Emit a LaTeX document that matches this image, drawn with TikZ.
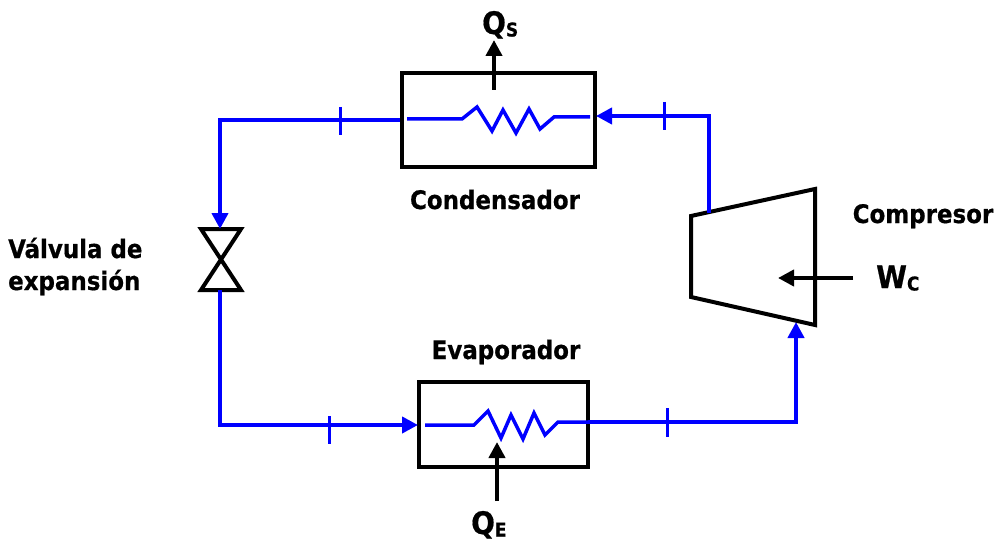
\documentclass[tikz,border=0pt]{standalone}
\usepackage{fontspec}
\setmainfont[BoldFeatures={FakeBold=0.6}]{DejaVu Sans Condensed}
\usetikzlibrary{arrows.meta}
\tikzset{
  unit/.style={draw=black,line width=4pt,miter limit=10},
  flow/.style={draw=blue,line width=4pt},
  coil/.style={draw=blue,line width=3.5pt,line join=miter},
  tick/.style={draw=blue,line width=3pt},
  flowarrow/.style={flow,-{Triangle[length=16pt,width=16pt]}},
  heat/.style={draw=black,line width=4pt,-{Triangle[length=16pt,width=16pt]}},
  label/.style={font=\bfseries\fontsize{25.5}{27}\selectfont,inner sep=0pt,text=black},
  sym/.style={font=\bfseries\fontsize{31}{33}\selectfont,inner sep=0pt,text=black},
}
\newcommand{\subs}[1]{{\fontsize{19}{21}\selectfont\raisebox{-2.5pt}{#1}}}
\begin{document}
\begin{tikzpicture}[x=1pt,y=-1pt]
\useasboundingbox (0,0) rectangle (998,540);
% units
\node[unit,draw,minimum width=193pt,minimum height=94pt,inner sep=0pt] (cond) at (498.5,120.5) {};
\node[unit,draw,minimum width=169pt,minimum height=85pt,inner sep=0pt] (evap) at (503.5,424.5) {};
\draw[unit,line join=miter] (691,216) coordinate (c1) -- (815,189) coordinate (c2) -- (815,325) coordinate (c3) -- (691,297) coordinate (c4) -- cycle;
\draw[unit,line join=miter] (201,229) coordinate (v1) -- (241,229) coordinate (v2) -- (201,290) coordinate (v3) -- (241,290) coordinate (v4) -- cycle;
% named points on the circuit
\coordinate (condoutL) at (400,120);
\coordinate (c-left) at (220,120);
\coordinate (vtop) at (220,229);
\coordinate (vbot) at (220,290);
\coordinate (e-left) at (220,425);
\coordinate (evapin) at (418,425);
\coordinate (evapout) at (588,422);
\coordinate (e-right) at (796,422);
\coordinate (compin) at (796,322);
\coordinate (compout) at (709,213);
\coordinate (c-right) at (709,116);
\coordinate (condin) at (596,116);
% circuit
\draw[flowarrow] (condoutL) -- (c-left) -- (vtop);
\draw[flowarrow] (vbot) -- (e-left) -- (evapin);
\draw[flowarrow] (evapout) -- (e-right) -- (compin);
\draw[flowarrow] (compout) -- (c-right) -- (condin);
% coils
\draw[coil] (407,119) -- (462,119) -- (477,107) -- (492,131) -- (503,110) -- (516,133) -- (529,109) -- (540,129) -- (554,117) -- (590,117);
\draw[coil] (425,425) -- (474,425) -- (488,411) -- (501,438) -- (511,415) -- (523,439) -- (534,413) -- (545,435) -- (558,422) -- (590,422);
% ticks
\draw[tick] (340,107) -- (340,135);
\draw[tick] (664,102) -- (664,130);
\draw[tick] (329,416) -- (329,444);
\draw[tick] (667,408) -- (667,437);
% heat and work
\node[sym,anchor=base west] (qs) at (482,34) {Q\subs{S}};
\node[sym,anchor=base west] (qe) at (471,534) {Q\subs{E}};
\node[sym,anchor=base west] (wc) at (876,288) {W\subs{C}};
\coordinate (qsstart) at (494,90);
\coordinate (qsend) at (494,40);
\coordinate (qestart) at (497,501);
\coordinate (qeend) at (497,442);
\coordinate (wcstart) at (853,278);
\coordinate (wcend) at (778,278);
\draw[heat] (qsstart) -- (qsend);
\draw[heat] (qestart) -- (qeend);
\draw[heat] (wcstart) -- (wcend);
% labels
\node[label,anchor=base] (lcond) at (495,209) {Condensador};
\node[label,anchor=base] (levap) at (506,359) {Evaporador};
\node[label,anchor=base] (lcomp) at (923,223) {Compresor};
\node[label,anchor=base west] (lval1) at (8,258) {Válvula de};
\node[label,anchor=base west] (lval2) at (8,290) {expansión};
\end{tikzpicture}
\end{document}
